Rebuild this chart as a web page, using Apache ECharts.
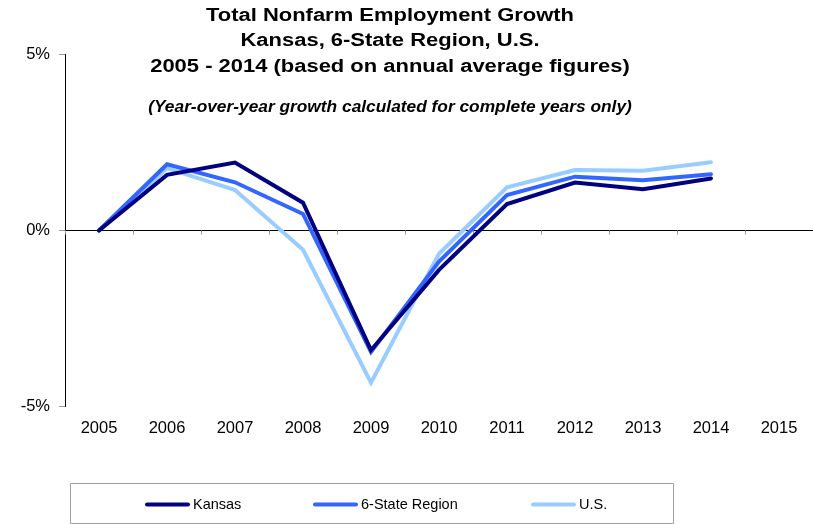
<!DOCTYPE html>
<html>
<head>
<meta charset="utf-8">
<script src="https://cdn.jsdelivr.net/npm/echarts@6/dist/echarts.min.js"></script>
<style>
  html, body { margin: 0; padding: 0; background: #fff; }
  #chart { width: 813px; height: 524px; }
</style>
</head>
<body>
<div id="chart"></div>
<script>
// Year categories along the horizontal axis
const years = ['2005', '2006', '2007', '2008', '2009', '2010', '2011', '2012', '2013', '2014', '2015'];

// Year-over-year nonfarm employment growth, percent
const kansas = [0, 1.58, 1.93, 0.79, -3.40, -1.12, 0.75, 1.36, 1.17, 1.48, null];
const region = [0, 1.88, 1.37, 0.47, -3.45, -0.88, 1.01, 1.53, 1.43, 1.60, null];
const us     = [0, 1.77, 1.15, -0.55, -4.32, -0.66, 1.23, 1.72, 1.70, 1.94, null];

const seriesNames = ['Kansas', '6-State Region', 'U.S.'];
const seriesColors = ['#000080', '#3366FF', '#99CCFF'];

const titleLines = [
  'Total Nonfarm Employment Growth',
  'Kansas, 6-State Region, U.S.',
  '2005 - 2014 (based on annual average figures)'
];
const subtitle = '(Year-over-year growth calculated for complete years only)';

const FONT = 'Liberation Sans, Arial, sans-serif';
const chart = echarts.init(document.getElementById('chart'), null, { renderer: 'canvas' });

function legendFor(name, left) {
  return {
    data: [name],
    left: left,
    top: 497,
    itemWidth: 45,
    itemHeight: 14,
    icon: 'path://M2,5 L43,5 A2,2 0 0 1 43,9 L2,9 A2,2 0 0 1 2,5 Z',
    textStyle: { fontFamily: FONT, fontSize: 14.5, color: '#000', padding: [0, 0, 0, -2] },
    padding: 0
  };
}

// Title block: three bold lines plus an italic note, drawn slightly widened
const titleGraphics = titleLines.map((line, i) => ({
  type: 'text',
  x: 390,
  y: 16 + i * 25.5,
  scaleX: 1.22,
  style: {
    text: line,
    font: 'bold 18px ' + FONT,
    fill: '#000',
    textAlign: 'center',
    textVerticalAlign: 'middle'
  }
}));
titleGraphics.push({
  type: 'text',
  x: 390,
  y: 107,
  scaleX: 1.05,
  style: {
    text: subtitle,
    font: 'italic bold 16.5px ' + FONT,
    fill: '#000',
    textAlign: 'center',
    textVerticalAlign: 'middle'
  }
});

chart.setOption({
  animation: false,
  backgroundColor: '#fff',
  legend: [
    legendFor(seriesNames[0], 145),
    legendFor(seriesNames[1], 313),
    legendFor(seriesNames[2], 531)
  ],
  graphic: titleGraphics.concat([
    {
      type: 'rect',
      shape: { x: 70.5, y: 483.5, width: 603, height: 40 },
      style: { fill: 'none', stroke: '#a0a0a0', lineWidth: 1 },
      z: -1
    }
  ]),
  grid: { left: 65, right: 0, top: 54.5, bottom: 117.5 },
  xAxis: [
    {
      type: 'category',
      data: years,
      position: 'bottom',
      axisLine: { show: false, onZero: false },
      axisTick: { show: false },
      axisLabel: { fontFamily: FONT, fontSize: 16.5, color: '#000', margin: 13 }
    },
    {
      type: 'category',
      data: years,
      position: 'bottom',
      axisLine: { show: true, onZero: true, lineStyle: { color: '#000', width: 1 } },
      axisTick: { show: true, length: 4, lineStyle: { color: '#999' } },
      axisLabel: { show: false }
    }
  ],
  yAxis: {
    type: 'value',
    min: -5,
    max: 5,
    interval: 5,
    axisLine: { show: true, lineStyle: { color: '#000', width: 1 } },
    axisTick: { show: true, length: 6, lineStyle: { color: '#999' } },
    axisLabel: { formatter: '{value}%', fontFamily: FONT, fontSize: 16.5, color: '#000', margin: 15 },
    splitLine: { show: false }
  },
  series: [kansas, region, us].map((vals, i) => ({
    name: seriesNames[i],
    type: 'line',
    data: vals,
    xAxisIndex: 0,
    symbol: 'none',
    color: seriesColors[i],
    lineStyle: { width: 4, color: seriesColors[i], cap: 'round', join: 'miter' },
    z: 3 + (2 - i)
  }))
});
</script>
</body>
</html>
